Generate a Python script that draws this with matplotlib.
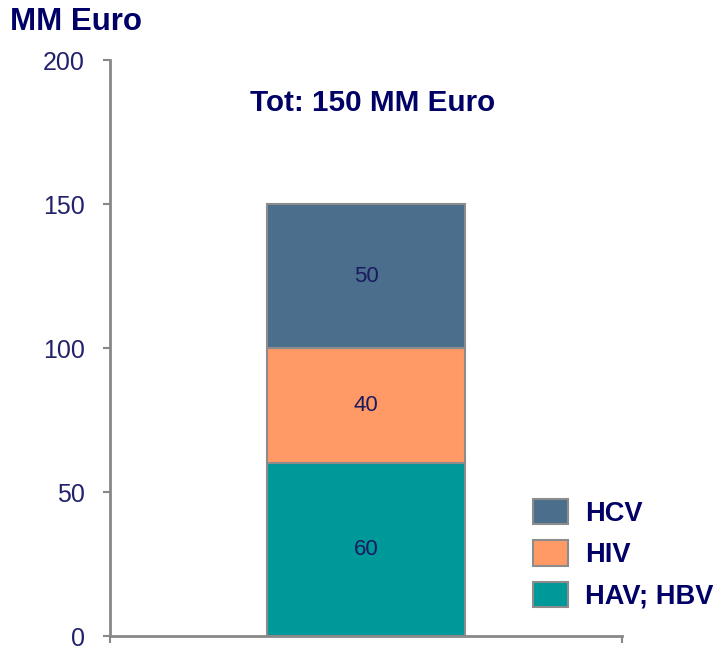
import matplotlib
matplotlib.use('Agg')
import matplotlib.pyplot as plt

# Dati del grafico (MM Euro)
segmenti = ['HAV; HBV', 'HIV', 'HCV']
valori = [60, 40, 50]
colori = ['#009999', '#ff9966', '#4a6e8c']
yticks = [0, 50, 100, 150, 200]
titolo = 'Tot: 150 MM Euro'
unita = 'MM Euro'

blu = '#000066'
grigio = '#888888'

plt.rcParams['font.family'] = ['Liberation Sans', 'DejaVu Sans']

fig = plt.figure(figsize=(7.13, 6.48), dpi=100)
ax = fig.add_axes([110 / 713, 1 - 636 / 648, 512 / 713, 576 / 648])

base = 0
barre = []
for nome, val, col in zip(segmenti, valori, colori):
    b = ax.bar(0, val, width=0.387, bottom=base, color=col,
               edgecolor='#8c8c8c', linewidth=1.5, label=nome)
    ax.bar_label(b, labels=[str(val)], label_type='center',
                 fontsize=16, color='#1a1a5e')
    barre.append(b)
    base += val

ax.set_xlim(-0.5, 0.5)
ax.set_ylim(0, 200)
ax.set_yticks(yticks)
ax.set_yticklabels([str(t) for t in yticks], fontsize=18, color='#22226b')
ax.set_xticks([-0.5, 0.5])
ax.set_xticklabels(['', ''])
ax.tick_params(axis='both', direction='out', length=5, width=1.5, color=grigio, pad=13)

for s in ['top', 'right']:
    ax.spines[s].set_visible(False)
for s in ['left', 'bottom']:
    ax.spines[s].set_color(grigio)
    ax.spines[s].set_linewidth(2)

ax.text((250 - 110) / 512, 0.925, titolo, transform=ax.transAxes, ha='left', va='center',
        fontsize=21.3, fontweight='bold', color=blu)
fig.text(10 / 713, 1 - 22 / 648, unita, ha='left', va='center',
         fontsize=22.5, fontweight='bold', color=blu)

# Legenda (ordine inverso: HCV in alto)
fig.legend(handles=barre[::-1], labels=segmenti[::-1],
           loc='upper left', bbox_to_anchor=(522 / 713, 1 - 488 / 648),
           frameon=False, handlelength=1.3, handleheight=1.05,
           labelspacing=0.5, handletextpad=0.62, borderaxespad=0,
           prop={'weight': 'bold', 'size': 19.6}, labelcolor=blu)

fig.savefig('out.png', dpi=100)
